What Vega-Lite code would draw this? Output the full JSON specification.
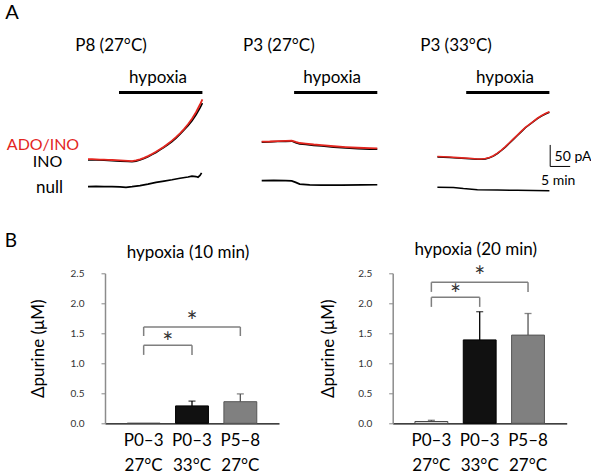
{
  "$schema": "https://vega.github.io/schema/vega-lite/v6.json",
  "padding": 0,
  "background": "white",
  "config": {"view": {"stroke": null}, "font": "Lato", "axis": {"labelOverlap": false}, "axisY": {"labelOverlap": false}},
  "datasets": {
    "traces": [
      {"panel":"p1","series":"ADO/INO","t":0,"pA":71},{"panel":"p1","series":"ADO/INO","t":1,"pA":71},{"panel":"p1","series":"ADO/INO","t":2,"pA":70.5},{"panel":"p1","series":"ADO/INO","t":3,"pA":70},{"panel":"p1","series":"ADO/INO","t":4,"pA":70},{"panel":"p1","series":"ADO/INO","t":5,"pA":69.5},{"panel":"p1","series":"ADO/INO","t":6,"pA":69},{"panel":"p1","series":"ADO/INO","t":7,"pA":68.5},{"panel":"p1","series":"ADO/INO","t":8,"pA":68},{"panel":"p1","series":"ADO/INO","t":9,"pA":67.5},{"panel":"p1","series":"ADO/INO","t":10,"pA":67},{"panel":"p1","series":"ADO/INO","t":11,"pA":66.5},{"panel":"p1","series":"ADO/INO","t":12,"pA":68},{"panel":"p1","series":"ADO/INO","t":13,"pA":70.5},{"panel":"p1","series":"ADO/INO","t":14,"pA":74},{"panel":"p1","series":"ADO/INO","t":15,"pA":78},{"panel":"p1","series":"ADO/INO","t":16,"pA":83},{"panel":"p1","series":"ADO/INO","t":17,"pA":88},{"panel":"p1","series":"ADO/INO","t":18,"pA":94},{"panel":"p1","series":"ADO/INO","t":19,"pA":100},{"panel":"p1","series":"ADO/INO","t":20,"pA":107},{"panel":"p1","series":"ADO/INO","t":21,"pA":114},{"panel":"p1","series":"ADO/INO","t":22,"pA":122},{"panel":"p1","series":"ADO/INO","t":23,"pA":131},{"panel":"p1","series":"ADO/INO","t":24,"pA":141},{"panel":"p1","series":"ADO/INO","t":25,"pA":152},{"panel":"p1","series":"ADO/INO","t":26,"pA":165},{"panel":"p1","series":"ADO/INO","t":27,"pA":180},{"panel":"p1","series":"ADO/INO","t":28,"pA":198},{"panel":"p1","series":"ADO/INO","t":28.6,"pA":210},
      {"panel":"p1","series":"INO","t":0,"pA":69.5},{"panel":"p1","series":"INO","t":2,"pA":69},{"panel":"p1","series":"INO","t":4,"pA":68.5},{"panel":"p1","series":"INO","t":6,"pA":67.5},{"panel":"p1","series":"INO","t":8,"pA":66.5},{"panel":"p1","series":"INO","t":10,"pA":65.5},{"panel":"p1","series":"INO","t":11,"pA":65},{"panel":"p1","series":"INO","t":12,"pA":66.5},{"panel":"p1","series":"INO","t":13,"pA":69},{"panel":"p1","series":"INO","t":14,"pA":72.5},{"panel":"p1","series":"INO","t":15,"pA":76.5},{"panel":"p1","series":"INO","t":16,"pA":81.5},{"panel":"p1","series":"INO","t":17,"pA":86.5},{"panel":"p1","series":"INO","t":18,"pA":92.5},{"panel":"p1","series":"INO","t":19,"pA":98.5},{"panel":"p1","series":"INO","t":20,"pA":105},{"panel":"p1","series":"INO","t":21,"pA":112},{"panel":"p1","series":"INO","t":22,"pA":120},{"panel":"p1","series":"INO","t":23,"pA":129},{"panel":"p1","series":"INO","t":24,"pA":139},{"panel":"p1","series":"INO","t":25,"pA":149},{"panel":"p1","series":"INO","t":26,"pA":160},{"panel":"p1","series":"INO","t":27,"pA":174},{"panel":"p1","series":"INO","t":28,"pA":190},{"panel":"p1","series":"INO","t":28.6,"pA":201},
      {"panel":"p1","series":"null","t":0,"pA":7},{"panel":"p1","series":"null","t":2,"pA":7.5},{"panel":"p1","series":"null","t":4,"pA":7},{"panel":"p1","series":"null","t":6,"pA":7},{"panel":"p1","series":"null","t":8,"pA":6.5},{"panel":"p1","series":"null","t":9.5,"pA":5.5},{"panel":"p1","series":"null","t":11,"pA":7},{"panel":"p1","series":"null","t":13,"pA":9.5},{"panel":"p1","series":"null","t":15,"pA":13},{"panel":"p1","series":"null","t":17,"pA":17},{"panel":"p1","series":"null","t":19,"pA":20},{"panel":"p1","series":"null","t":21,"pA":23},{"panel":"p1","series":"null","t":23,"pA":26.5},{"panel":"p1","series":"null","t":25,"pA":29.5},{"panel":"p1","series":"null","t":26,"pA":31.5},{"panel":"p1","series":"null","t":27,"pA":30.5},{"panel":"p1","series":"null","t":27.5,"pA":29},{"panel":"p1","series":"null","t":28,"pA":33},{"panel":"p1","series":"null","t":28.4,"pA":39},
      {"panel":"p2","series":"ADO/INO","t":0,"pA":111.5},{"panel":"p2","series":"ADO/INO","t":2,"pA":112},{"panel":"p2","series":"ADO/INO","t":4,"pA":113},{"panel":"p2","series":"ADO/INO","t":6,"pA":113.5},{"panel":"p2","series":"ADO/INO","t":7.5,"pA":114},{"panel":"p2","series":"ADO/INO","t":8.5,"pA":111},{"panel":"p2","series":"ADO/INO","t":9.5,"pA":108.5},{"panel":"p2","series":"ADO/INO","t":11,"pA":107},{"panel":"p2","series":"ADO/INO","t":13,"pA":105},{"panel":"p2","series":"ADO/INO","t":15,"pA":103.5},{"panel":"p2","series":"ADO/INO","t":18,"pA":101},{"panel":"p2","series":"ADO/INO","t":21,"pA":99},{"panel":"p2","series":"ADO/INO","t":24,"pA":97.5},{"panel":"p2","series":"ADO/INO","t":27,"pA":96.5},{"panel":"p2","series":"ADO/INO","t":28.9,"pA":96},
      {"panel":"p2","series":"INO","t":0,"pA":110.5},{"panel":"p2","series":"INO","t":2,"pA":111},{"panel":"p2","series":"INO","t":4,"pA":112},{"panel":"p2","series":"INO","t":6,"pA":112.5},{"panel":"p2","series":"INO","t":7.5,"pA":113},{"panel":"p2","series":"INO","t":8.5,"pA":109.5},{"panel":"p2","series":"INO","t":9.5,"pA":106.5},{"panel":"p2","series":"INO","t":11,"pA":105},{"panel":"p2","series":"INO","t":13,"pA":103},{"panel":"p2","series":"INO","t":15,"pA":101.5},{"panel":"p2","series":"INO","t":18,"pA":99},{"panel":"p2","series":"INO","t":21,"pA":97},{"panel":"p2","series":"INO","t":24,"pA":95.5},{"panel":"p2","series":"INO","t":27,"pA":94.5},{"panel":"p2","series":"INO","t":28.9,"pA":94},
      {"panel":"p2","series":"null","t":0,"pA":21},{"panel":"p2","series":"null","t":3,"pA":21.5},{"panel":"p2","series":"null","t":6,"pA":21},{"panel":"p2","series":"null","t":7.5,"pA":20.5},{"panel":"p2","series":"null","t":8.5,"pA":17},{"panel":"p2","series":"null","t":9.5,"pA":13},{"panel":"p2","series":"null","t":12,"pA":11},{"panel":"p2","series":"null","t":15,"pA":10.5},{"panel":"p2","series":"null","t":20,"pA":10.5},{"panel":"p2","series":"null","t":25,"pA":11},{"panel":"p2","series":"null","t":28.9,"pA":11.5},
      {"panel":"p3","series":"ADO/INO","t":0,"pA":77},{"panel":"p3","series":"ADO/INO","t":3,"pA":76},{"panel":"p3","series":"ADO/INO","t":6,"pA":74},{"panel":"p3","series":"ADO/INO","t":8,"pA":73},{"panel":"p3","series":"ADO/INO","t":10,"pA":71.5},{"panel":"p3","series":"ADO/INO","t":11,"pA":71.5},{"panel":"p3","series":"ADO/INO","t":12,"pA":72.5},{"panel":"p3","series":"ADO/INO","t":13,"pA":75},{"panel":"p3","series":"ADO/INO","t":14,"pA":79},{"panel":"p3","series":"ADO/INO","t":15,"pA":85},{"panel":"p3","series":"ADO/INO","t":16,"pA":92},{"panel":"p3","series":"ADO/INO","t":17,"pA":100},{"panel":"p3","series":"ADO/INO","t":18,"pA":109},{"panel":"p3","series":"ADO/INO","t":19,"pA":118},{"panel":"p3","series":"ADO/INO","t":20,"pA":127},{"panel":"p3","series":"ADO/INO","t":21,"pA":136},{"panel":"p3","series":"ADO/INO","t":22,"pA":145},{"panel":"p3","series":"ADO/INO","t":23,"pA":152},{"panel":"p3","series":"ADO/INO","t":24,"pA":159},{"panel":"p3","series":"ADO/INO","t":25,"pA":166},{"panel":"p3","series":"ADO/INO","t":26,"pA":172},{"panel":"p3","series":"ADO/INO","t":27,"pA":177},{"panel":"p3","series":"ADO/INO","t":28,"pA":181},
      {"panel":"p3","series":"INO","t":0,"pA":76},{"panel":"p3","series":"INO","t":3,"pA":75},{"panel":"p3","series":"INO","t":6,"pA":73},{"panel":"p3","series":"INO","t":8,"pA":72},{"panel":"p3","series":"INO","t":10,"pA":70.5},{"panel":"p3","series":"INO","t":11,"pA":70.5},{"panel":"p3","series":"INO","t":12,"pA":71.5},{"panel":"p3","series":"INO","t":13,"pA":74},{"panel":"p3","series":"INO","t":14,"pA":78},{"panel":"p3","series":"INO","t":15,"pA":84},{"panel":"p3","series":"INO","t":16,"pA":91},{"panel":"p3","series":"INO","t":17,"pA":99},{"panel":"p3","series":"INO","t":18,"pA":108},{"panel":"p3","series":"INO","t":19,"pA":117},{"panel":"p3","series":"INO","t":20,"pA":126},{"panel":"p3","series":"INO","t":21,"pA":135},{"panel":"p3","series":"INO","t":22,"pA":144},{"panel":"p3","series":"INO","t":23,"pA":151},{"panel":"p3","series":"INO","t":24,"pA":158},{"panel":"p3","series":"INO","t":25,"pA":165},{"panel":"p3","series":"INO","t":26,"pA":171},{"panel":"p3","series":"INO","t":27,"pA":176},{"panel":"p3","series":"INO","t":28,"pA":180},
      {"panel":"p3","series":"null","t":0,"pA":5.5},{"panel":"p3","series":"null","t":4,"pA":5},{"panel":"p3","series":"null","t":6.5,"pA":2.5},{"panel":"p3","series":"null","t":10,"pA":0},{"panel":"p3","series":"null","t":15,"pA":-1},{"panel":"p3","series":"null","t":20,"pA":-1.5},{"panel":"p3","series":"null","t":28,"pA":-2.5}
    ],
    "hyp": [
      {"panel":"p1","t":7.75,"t2":28.6,"pA":226},
      {"panel":"p2","t":8.1,"t2":28.9,"pA":226},
      {"panel":"p3","t":7.2,"t2":28.0,"pA":226}
    ],
    "ann": [
      {"panel":"p1","t":-19,"pA":396,"text":"A","size":"big"},
      {"panel":"p1","t":5.75,"pA":322.4,"text":"P8 (27°C)","size":"normal"},
      {"panel":"p1","t":17.5,"pA":247.3,"text":"hypoxia","size":"normal"},
      {"panel":"p1","t":-11.25,"pA":93.4,"text":"ADO/INO","size":"label"},
      {"panel":"p1","t":-10.1,"pA":51.6,"text":"INO","size":"label"},
      {"panel":"p1","t":-9.6,"pA":-7.7,"text":"null","size":"normal"},
      {"panel":"p2","t":4.3,"pA":322.4,"text":"P3 (27°C)","size":"normal"},
      {"panel":"p2","t":17.6,"pA":247.3,"text":"hypoxia","size":"normal"},
      {"panel":"p3","t":4.65,"pA":322.4,"text":"P3 (33°C)","size":"normal"},
      {"panel":"p3","t":16.9,"pA":247.3,"text":"hypoxia","size":"normal"}
    ],
    "scalebar": [
      {"t":28.2,"t2":28.2,"pA":54,"pA2":104},
      {"t":28.2,"t2":33.2,"pA":54,"pA2":54}
    ],
    "scaletext": [
      {"t":29.3,"pA":66.7,"text":"50 pA","align":"left"},
      {"t":30.2,"pA":10.9,"text":"5 min","align":"center"}
    ],
    "bars": [
      {"panel":"10","grp":"P0–3|27°C","mean":0,"upper":0},
      {"panel":"10","grp":"P0–3|33°C","mean":0.29,"upper":0.37},
      {"panel":"10","grp":"P5–8|27°C","mean":0.36,"upper":0.49},
      {"panel":"20","grp":"P0–3|27°C","mean":0.03,"upper":0.05},
      {"panel":"20","grp":"P0–3|33°C","mean":1.39,"upper":1.86},
      {"panel":"20","grp":"P5–8|27°C","mean":1.47,"upper":1.83}
    ],
    "brackets": [
      {"panel":"10","from":"P0–3|27°C","to":"P0–3|33°C","y":1.3,"low":1.14},
      {"panel":"10","from":"P0–3|27°C","to":"P5–8|27°C","y":1.605,"low":1.455},
      {"panel":"20","from":"P0–3|27°C","to":"P0–3|33°C","y":2.1,"low":1.94},
      {"panel":"20","from":"P0–3|27°C","to":"P5–8|27°C","y":2.35,"low":2.19}
    ],
    "stars": [
      {"panel":"10","grp":"P0–3|27°C","y":1.19,"pos":"between"},
      {"panel":"10","grp":"P0–3|33°C","y":1.54,"pos":"on"},
      {"panel":"20","grp":"P0–3|27°C","y":1.99,"pos":"between"},
      {"panel":"20","grp":"P0–3|33°C","y":2.29,"pos":"on"}
    ]
  },
  "bounds": "flush",
  "spacing": 273.3,
  "vconcat": [
    {
      "bounds": "flush",
      "spacing": 33.7,
      "hconcat": [
        {
          "width": 208, "height": 200,
          "layer": [
            {"data": {"name": "traces"}, "transform": [{"filter": "datum.panel == 'p1' && datum.series != 'ADO/INO'"}],
             "mark": {"type": "line", "color": "black", "strokeWidth": 1.7},
             "encoding": {"x": {"field": "t", "type": "quantitative", "scale": {"domain": [-22, 30], "nice": false, "zero": false}, "axis": null},
                          "y": {"field": "pA", "type": "quantitative", "scale": {"domain": [-24, 441], "nice": false, "zero": false}, "axis": null},
                          "detail": {"field": "series"}}},
            {"data": {"name": "traces"}, "transform": [{"filter": "datum.panel == 'p1' && datum.series == 'ADO/INO'"}],
             "mark": {"type": "line", "color": "#e3261f", "strokeWidth": 1.8},
             "encoding": {"x": {"field": "t", "type": "quantitative"}, "y": {"field": "pA", "type": "quantitative"}}},
            {"data": {"name": "hyp"}, "transform": [{"filter": "datum.panel == 'p1'"}],
             "mark": {"type": "rule", "color": "black", "strokeWidth": 3},
             "encoding": {"x": {"field": "t", "type": "quantitative"}, "x2": {"field": "t2"}, "y": {"field": "pA", "type": "quantitative"}}},
            {"data": {"name": "ann"}, "transform": [{"filter": "datum.panel == 'p1' && datum.size == 'normal'"}],
             "mark": {"type": "text", "fontSize": 17, "baseline": "alphabetic", "align": "center", "color": "black"},
             "encoding": {"x": {"field": "t", "type": "quantitative"}, "y": {"field": "pA", "type": "quantitative"}, "text": {"field": "text"}}},
            {"data": {"name": "ann"}, "transform": [{"filter": "datum.text == 'INO'"}],
             "mark": {"type": "text", "fontSize": 16, "baseline": "alphabetic", "align": "center", "color": "black"},
             "encoding": {"x": {"field": "t", "type": "quantitative"}, "y": {"field": "pA", "type": "quantitative"}, "text": {"field": "text"}}},
            {"data": {"name": "ann"}, "transform": [{"filter": "datum.text == 'ADO/INO'"}],
             "mark": {"type": "text", "fontSize": 16, "baseline": "alphabetic", "align": "center", "color": "#e3261f"},
             "encoding": {"x": {"field": "t", "type": "quantitative"}, "y": {"field": "pA", "type": "quantitative"}, "text": {"field": "text"}}},
            {"data": {"name": "ann"}, "transform": [{"filter": "datum.size == 'big'"}],
             "mark": {"type": "text", "fontSize": 20, "baseline": "alphabetic", "align": "center", "color": "black"},
             "encoding": {"x": {"field": "t", "type": "quantitative"}, "y": {"field": "pA", "type": "quantitative"}, "text": {"field": "text"}}}
          ]
        },
        {
          "width": 142, "height": 200,
          "layer": [
            {"data": {"name": "traces"}, "transform": [{"filter": "datum.panel == 'p2' && datum.series != 'ADO/INO'"}],
             "mark": {"type": "line", "color": "black", "strokeWidth": 1.7},
             "encoding": {"x": {"field": "t", "type": "quantitative", "scale": {"domain": [-5, 30.5], "nice": false, "zero": false}, "axis": null},
                          "y": {"field": "pA", "type": "quantitative", "scale": {"domain": [-24, 441], "nice": false, "zero": false}, "axis": null},
                          "detail": {"field": "series"}}},
            {"data": {"name": "traces"}, "transform": [{"filter": "datum.panel == 'p2' && datum.series == 'ADO/INO'"}],
             "mark": {"type": "line", "color": "#e3261f", "strokeWidth": 1.8},
             "encoding": {"x": {"field": "t", "type": "quantitative"}, "y": {"field": "pA", "type": "quantitative"}}},
            {"data": {"name": "hyp"}, "transform": [{"filter": "datum.panel == 'p2'"}],
             "mark": {"type": "rule", "color": "black", "strokeWidth": 3},
             "encoding": {"x": {"field": "t", "type": "quantitative"}, "x2": {"field": "t2"}, "y": {"field": "pA", "type": "quantitative"}}},
            {"data": {"name": "ann"}, "transform": [{"filter": "datum.panel == 'p2'"}],
             "mark": {"type": "text", "fontSize": 17, "baseline": "alphabetic", "align": "center", "color": "black"},
             "encoding": {"x": {"field": "t", "type": "quantitative"}, "y": {"field": "pA", "type": "quantitative"}, "text": {"field": "text"}}}
          ]
        },
        {
          "width": 164, "height": 200,
          "layer": [
            {"data": {"name": "traces"}, "transform": [{"filter": "datum.panel == 'p3' && datum.series != 'ADO/INO'"}],
             "mark": {"type": "line", "color": "black", "strokeWidth": 1.5},
             "encoding": {"x": {"field": "t", "type": "quantitative", "scale": {"domain": [-5, 36], "nice": false, "zero": false}, "axis": null},
                          "y": {"field": "pA", "type": "quantitative", "scale": {"domain": [-24, 441], "nice": false, "zero": false}, "axis": null},
                          "detail": {"field": "series"}}},
            {"data": {"name": "traces"}, "transform": [{"filter": "datum.panel == 'p3' && datum.series == 'ADO/INO'"}],
             "mark": {"type": "line", "color": "#e3261f", "strokeWidth": 1.6},
             "encoding": {"x": {"field": "t", "type": "quantitative"}, "y": {"field": "pA", "type": "quantitative"}}},
            {"data": {"name": "hyp"}, "transform": [{"filter": "datum.panel == 'p3'"}],
             "mark": {"type": "rule", "color": "black", "strokeWidth": 3},
             "encoding": {"x": {"field": "t", "type": "quantitative"}, "x2": {"field": "t2"}, "y": {"field": "pA", "type": "quantitative"}}},
            {"data": {"name": "ann"}, "transform": [{"filter": "datum.panel == 'p3'"}],
             "mark": {"type": "text", "fontSize": 17, "baseline": "alphabetic", "align": "center", "color": "black"},
             "encoding": {"x": {"field": "t", "type": "quantitative"}, "y": {"field": "pA", "type": "quantitative"}, "text": {"field": "text"}}},
            {"data": {"name": "scalebar"},
             "mark": {"type": "rule", "color": "black", "strokeWidth": 1},
             "encoding": {"x": {"field": "t", "type": "quantitative"}, "x2": {"field": "t2"}, "y": {"field": "pA", "type": "quantitative"}, "y2": {"field": "pA2"}}},
            {"data": {"name": "scaletext"}, "transform": [{"filter": "datum.align == 'left'"}],
             "mark": {"type": "text", "fontSize": 14, "baseline": "alphabetic", "align": "left", "color": "black"},
             "encoding": {"x": {"field": "t", "type": "quantitative"}, "y": {"field": "pA", "type": "quantitative"}, "text": {"field": "text"}}},
            {"data": {"name": "scaletext"}, "transform": [{"filter": "datum.align == 'center'"}],
             "mark": {"type": "text", "fontSize": 14, "baseline": "alphabetic", "align": "center", "color": "black"},
             "encoding": {"x": {"field": "t", "type": "quantitative"}, "y": {"field": "pA", "type": "quantitative"}, "text": {"field": "text"}}}
          ]
        }
      ]
    },
    {
      "bounds": "flush",
      "spacing": 83,
      "hconcat": [
        {
          "width": 22, "height": 150,
          "title": {"text": "B", "fontSize": 19, "fontWeight": "normal", "anchor": "middle", "frame": "group", "baseline": "alphabetic", "offset": 10.6, "dy": 3, "color": "black"},
          "data": {"values": [{"t": 0}]},
          "mark": {"type": "text"},
          "encoding": {"text": {"value": ""}}
        },
        {
          "bounds": "flush",
          "spacing": 113.7,
          "hconcat": [
            {
              "width": 174, "height": 150,
              "title": {"text": "hypoxia (10 min)", "fontSize": 17, "fontWeight": "normal", "anchor": "middle", "frame": "group", "baseline": "alphabetic", "offset": 1, "dy": 8, "dx": -4, "color": "black"},
              "layer": [
                {"data": {"name": "bars"}, "transform": [{"filter": "datum.panel == '10'"}],
                 "mark": {"type": "bar", "strokeWidth": 1},
                 "encoding": {
                   "x": {"field": "grp", "type": "nominal", "title": null, "scale": {"domain": ["P0–3|27°C","P0–3|33°C","P5–8|27°C"], "paddingInner": 0.32, "paddingOuter": 0.46},
                         "axis": {"labelExpr": "split(datum.value, '|')", "labelAngle": 0, "labelFontSize": 17, "labelColor": "black", "labelLineHeight": 25, "labelPadding": 9, "labelBaseline": "top", "ticks": false, "domainColor": "black", "domainWidth": 1.2}},
                   "y": {"field": "mean", "type": "quantitative", "title": "Δpurine (μM)", "scale": {"domain": [0, 2.5], "nice": false},
                         "axis": {"values": [0, 0.5, 1, 1.5, 2, 2.5], "tickCount": 6, "labelExpr": "format(datum.value, '.1f')", "grid": false, "labelOverlap": false, "labelFlush": false, "labelFontSize": 10, "labelColor": "#333", "labelPadding": 17, "tickSize": 4, "tickColor": "#888", "domainColor": "#8c8c8c", "domainWidth": 1.5, "titleFontSize": 17, "titleFontWeight": "normal", "titleColor": "black", "titlePadding": 23}},
                   "color": {"field": "grp", "type": "nominal", "scale": {"domain": ["P0–3|27°C","P0–3|33°C","P5–8|27°C"], "range": ["white", "#111111", "#808080"]}, "legend": null},
                   "stroke": {"field": "grp", "type": "nominal", "scale": {"domain": ["P0–3|27°C","P0–3|33°C","P5–8|27°C"], "range": ["#444444", "#000000", "#555555"]}, "legend": null}
                 }},
                {"data": {"name": "bars"}, "transform": [{"filter": "datum.panel == '10' && datum.upper > datum.mean"}],
                 "mark": {"type": "rule", "strokeWidth": 1.3},
                 "encoding": {"x": {"field": "grp", "type": "nominal", "title": null, "bandPosition": 0.5}, "y": {"field": "mean", "type": "quantitative", "title": "Δpurine (μM)"}, "y2": {"field": "upper"},
                              "stroke": {"field": "grp", "type": "nominal", "legend": null}}},
                {"data": {"name": "bars"}, "transform": [{"filter": "datum.panel == '10' && datum.upper > datum.mean"}],
                 "mark": {"type": "tick", "size": 7, "thickness": 1.3},
                 "encoding": {"x": {"field": "grp", "type": "nominal", "title": null}, "y": {"field": "upper", "type": "quantitative", "title": "Δpurine (μM)"},
                              "fill": {"field": "grp", "type": "nominal", "scale": {"domain": ["P0–3|27°C","P0–3|33°C","P5–8|27°C"], "range": ["#444444", "#000000", "#555555"]}, "legend": null}}},
                {"data": {"name": "brackets"}, "transform": [{"filter": "datum.panel == '10'"}],
                 "mark": {"type": "rule", "color": "#7f7f7f", "strokeWidth": 1.5},
                 "encoding": {"x": {"field": "from", "type": "nominal", "title": null, "bandPosition": 0.5}, "x2": {"field": "to", "bandPosition": 0.5}, "y": {"field": "y", "type": "quantitative", "title": "Δpurine (μM)"}}},
                {"data": {"name": "brackets"}, "transform": [{"filter": "datum.panel == '10'"}],
                 "mark": {"type": "rule", "color": "#7f7f7f", "strokeWidth": 1.5},
                 "encoding": {"x": {"field": "from", "type": "nominal", "title": null, "bandPosition": 0.5}, "y": {"field": "low", "type": "quantitative", "title": "Δpurine (μM)"}, "y2": {"field": "y"}}},
                {"data": {"name": "brackets"}, "transform": [{"filter": "datum.panel == '10'"}],
                 "mark": {"type": "rule", "color": "#7f7f7f", "strokeWidth": 1.5},
                 "encoding": {"x": {"field": "to", "type": "nominal", "title": null, "bandPosition": 0.5}, "y": {"field": "low", "type": "quantitative", "title": "Δpurine (μM)"}, "y2": {"field": "y"}}},
                {"data": {"name": "stars"}, "transform": [{"filter": "datum.panel == '10' && datum.pos == 'between'"}],
                 "mark": {"type": "text", "text": "*", "fontSize": 26, "baseline": "alphabetic", "align": "center", "color": "#333"},
                 "encoding": {"x": {"field": "grp", "type": "nominal", "title": null, "bandPosition": 1.235}, "y": {"field": "y", "type": "quantitative", "title": "Δpurine (μM)"}}},
                {"data": {"name": "stars"}, "transform": [{"filter": "datum.panel == '10' && datum.pos == 'on'"}],
                 "mark": {"type": "text", "text": "*", "fontSize": 26, "baseline": "alphabetic", "align": "center", "color": "#333"},
                 "encoding": {"x": {"field": "grp", "type": "nominal", "title": null, "bandPosition": 0.5}, "y": {"field": "y", "type": "quantitative", "title": "Δpurine (μM)"}}}
              ]
            },
            {
              "width": 174, "height": 150,
              "title": {"text": "hypoxia (20 min)", "fontSize": 17, "fontWeight": "normal", "anchor": "middle", "frame": "group", "baseline": "alphabetic", "offset": 1, "dy": 8, "dx": -4, "color": "black"},
              "layer": [
                {"data": {"name": "bars"}, "transform": [{"filter": "datum.panel == '20'"}],
                 "mark": {"type": "bar", "strokeWidth": 1},
                 "encoding": {
                   "x": {"field": "grp", "type": "nominal", "title": null, "scale": {"domain": ["P0–3|27°C","P0–3|33°C","P5–8|27°C"], "paddingInner": 0.32, "paddingOuter": 0.46},
                         "axis": {"labelExpr": "split(datum.value, '|')", "labelAngle": 0, "labelFontSize": 17, "labelColor": "black", "labelLineHeight": 25, "labelPadding": 9, "labelBaseline": "top", "ticks": false, "domainColor": "black", "domainWidth": 1.2}},
                   "y": {"field": "mean", "type": "quantitative", "title": "Δpurine (μM)", "scale": {"domain": [0, 2.5], "nice": false},
                         "axis": {"values": [0, 0.5, 1, 1.5, 2, 2.5], "tickCount": 6, "labelExpr": "format(datum.value, '.1f')", "grid": false, "labelOverlap": false, "labelFlush": false, "labelFontSize": 10, "labelColor": "#333", "labelPadding": 17, "tickSize": 4, "tickColor": "#888", "domainColor": "#8c8c8c", "domainWidth": 1.5, "titleFontSize": 17, "titleFontWeight": "normal", "titleColor": "black", "titlePadding": 20}},
                   "color": {"field": "grp", "type": "nominal", "scale": {"domain": ["P0–3|27°C","P0–3|33°C","P5–8|27°C"], "range": ["white", "#111111", "#808080"]}, "legend": null},
                   "stroke": {"field": "grp", "type": "nominal", "scale": {"domain": ["P0–3|27°C","P0–3|33°C","P5–8|27°C"], "range": ["#444444", "#000000", "#555555"]}, "legend": null}
                 }},
                {"data": {"name": "bars"}, "transform": [{"filter": "datum.panel == '20' && datum.upper > datum.mean"}],
                 "mark": {"type": "rule", "strokeWidth": 1.3},
                 "encoding": {"x": {"field": "grp", "type": "nominal", "title": null, "bandPosition": 0.5}, "y": {"field": "mean", "type": "quantitative", "title": "Δpurine (μM)"}, "y2": {"field": "upper"},
                              "stroke": {"field": "grp", "type": "nominal", "legend": null}}},
                {"data": {"name": "bars"}, "transform": [{"filter": "datum.panel == '20' && datum.upper > datum.mean"}],
                 "mark": {"type": "tick", "size": 7, "thickness": 1.3},
                 "encoding": {"x": {"field": "grp", "type": "nominal", "title": null}, "y": {"field": "upper", "type": "quantitative", "title": "Δpurine (μM)"},
                              "fill": {"field": "grp", "type": "nominal", "scale": {"domain": ["P0–3|27°C","P0–3|33°C","P5–8|27°C"], "range": ["#444444", "#000000", "#555555"]}, "legend": null}}},
                {"data": {"name": "brackets"}, "transform": [{"filter": "datum.panel == '20'"}],
                 "mark": {"type": "rule", "color": "#7f7f7f", "strokeWidth": 1.5},
                 "encoding": {"x": {"field": "from", "type": "nominal", "title": null, "bandPosition": 0.5}, "x2": {"field": "to", "bandPosition": 0.5}, "y": {"field": "y", "type": "quantitative", "title": "Δpurine (μM)"}}},
                {"data": {"name": "brackets"}, "transform": [{"filter": "datum.panel == '20'"}],
                 "mark": {"type": "rule", "color": "#7f7f7f", "strokeWidth": 1.5},
                 "encoding": {"x": {"field": "from", "type": "nominal", "title": null, "bandPosition": 0.5}, "y": {"field": "low", "type": "quantitative", "title": "Δpurine (μM)"}, "y2": {"field": "y"}}},
                {"data": {"name": "brackets"}, "transform": [{"filter": "datum.panel == '20'"}],
                 "mark": {"type": "rule", "color": "#7f7f7f", "strokeWidth": 1.5},
                 "encoding": {"x": {"field": "to", "type": "nominal", "title": null, "bandPosition": 0.5}, "y": {"field": "low", "type": "quantitative", "title": "Δpurine (μM)"}, "y2": {"field": "y"}}},
                {"data": {"name": "stars"}, "transform": [{"filter": "datum.panel == '20' && datum.pos == 'between'"}],
                 "mark": {"type": "text", "text": "*", "fontSize": 26, "baseline": "alphabetic", "align": "center", "color": "#333"},
                 "encoding": {"x": {"field": "grp", "type": "nominal", "title": null, "bandPosition": 1.235}, "y": {"field": "y", "type": "quantitative", "title": "Δpurine (μM)"}}},
                {"data": {"name": "stars"}, "transform": [{"filter": "datum.panel == '20' && datum.pos == 'on'"}],
                 "mark": {"type": "text", "text": "*", "fontSize": 26, "baseline": "alphabetic", "align": "center", "color": "#333"},
                 "encoding": {"x": {"field": "grp", "type": "nominal", "title": null, "bandPosition": 0.5}, "y": {"field": "y", "type": "quantitative", "title": "Δpurine (μM)"}}}
              ]
            }
          ]
        }
      ]
    }
  ]
}
